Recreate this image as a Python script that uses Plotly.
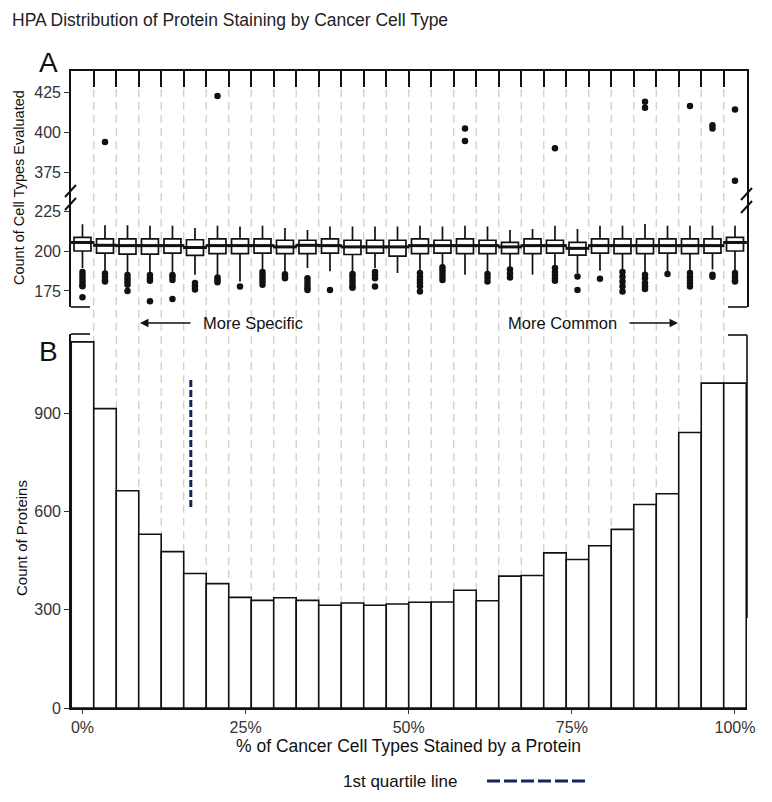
import plotly.graph_objects as go

# ---------------- data ----------------
pct_bins = [0, 3.45, 6.9, 10.34, 13.79, 17.24, 20.69, 24.14, 27.59, 31.03,
            34.48, 37.93, 41.38, 44.83, 48.28, 51.72, 55.17, 58.62, 62.07, 65.52,
            68.97, 72.41, 75.86, 79.31, 82.76, 86.21, 89.66, 93.1, 96.55, 100]
bin_width = 3.448

protein_counts = [1119, 915, 664, 531, 478, 411, 380, 338, 329, 337,
                  329, 314, 321, 314, 318, 323, 324, 360, 328, 403,
                  405, 474, 454, 496, 546, 622, 655, 842, 993, 993]

box_lower = [189.5, 187.4, 186, 186, 186, 185.3, 185.3, 181, 187.4, 186.3,
             189.5, 187.4, 187.4, 189.5, 186.3, 187.4, 190.6, 185.3, 187.4, 189.5,
             185.3, 190, 186.3, 187.8, 187.4, 186.3, 187.4, 187.4, 188.5, 187.4]
box_q1 = [200.2, 198.9, 198.3, 198.3, 198.9, 197.4, 198.5, 198.5, 198.9, 198.5,
          198.5, 198.9, 198, 198.9, 197, 198.5, 198.9, 198.5, 198.5, 198.5,
          198.5, 198.9, 197.6, 198.9, 198.5, 198.5, 198.9, 198.5, 198.9, 200.2]
box_median = [205.6, 203.8, 203.6, 203.6, 203.6, 202.4, 203.6, 203.6, 203.6, 202.8,
              203.8, 203.6, 202.8, 202.8, 202.8, 203.6, 203.6, 203.6, 203.6, 202.8,
              203.6, 203.6, 201.9, 203.6, 203.6, 203.6, 203.6, 203.6, 203.6, 205.6]
box_q3 = [208.8, 207.8, 207.8, 207.8, 207.8, 207.3, 207.8, 207.8, 207.8, 207,
          207, 207.8, 207, 207, 207, 207.8, 207, 207.8, 207, 205.6,
          207.8, 207, 205.6, 207.8, 207.8, 207.8, 207.8, 207.8, 207.8, 208.8]
box_upper = [217, 216.4, 216.4, 216.2, 216.2, 214.7, 216.2, 215.6, 216.2, 214.7,
             213.5, 215.6, 215.6, 215.6, 215.6, 216.2, 215.6, 216.2, 215.6, 213.5,
             214.1, 216.2, 214.1, 216.2, 216.2, 217.3, 216.2, 216.2, 216.2, 216.2]

low_outliers = [
    [187, 185, 183, 181, 179, 178, 171],
    [186, 184, 182, 181],
    [185, 183, 181, 179, 175],
    [185, 183, 181.5, 168.5],
    [185, 184, 182, 170],
    [180, 178, 176],
    [183.5, 182, 180.5],
    [177.8],
    [187, 185, 183, 181, 179],
    [185.5, 184, 183],
    [183, 181, 179, 177, 175.6],
    [175.6],
    [185.7, 184, 182, 180, 178, 177],
    [187, 185, 183, 177.8],
    [],
    [186.3, 184, 182, 180, 178, 174.6],
    [190, 188, 186, 184, 182],
    [],
    [185.7, 183.5, 181],
    [188.5, 186, 183.5],
    [],
    [189.5, 187, 185, 183, 181.4],
    [184.2, 175.6],
    [182.7],
    [187, 184, 181, 178, 174.6],
    [185.3, 183, 180, 178, 176.3],
    [185.7],
    [186.3, 184, 182, 180, 177.8],
    [185.3, 184],
    [186.3, 184, 182, 181],
]
high_outliers = [
    [], [394], [], [], [], [], [423], [], [], [],
    [], [], [], [], [], [], [], [402.5, 394.5], [], [],
    [], [390], [], [], [], [419.3, 415.5], [], [416.6], [404.5, 402.4], [414.5, 369.5],
]

quartile_x = 16.6
quartile_y = [614, 1011]

a_ticks = [175, 200, 225, 375, 400, 425]
b_ticks = [0, 300, 600, 900]
x_ticks = [0, 25, 50, 75, 100]
x_ticklabels = ["0%", "25%", "50%", "75%", "100%"]

# ---------------- helpers ----------------
BREAK_SHIFT = 125  # values above the axis break are shifted down


def squash(v):
    return v - BREAK_SHIFT if v > 300 else v


OFF = 8                      # page body margin of the browser
W, H = 772 - OFF, 802 - OFF
L, R, T, B = 63, 25, 63, 94
PW, PH = W - L - R, H - T - B


def px(x):  # reference-screen pixel -> paper
    return (x - OFF - L) / PW


def py(y):
    return (H - B - (y - OFF)) / PH


FONT = "Liberation Sans, Arial, sans-serif"
NAVY = "#15245c"
boundaries = [pct_bins[i] + bin_width / 2 for i in range(len(pct_bins) - 1)]
xr = [-1.76, 101.84]

fig = go.Figure()

# ---- panel B histogram ----
fig.add_trace(go.Bar(
    x=pct_bins, y=protein_counts, width=bin_width,
    marker=dict(color="white", line=dict(color="#111111", width=1.6)),
    xaxis="x", yaxis="y", showlegend=False, hoverinfo="skip"))

fig.add_trace(go.Scatter(
    x=[quartile_x, quartile_x], y=quartile_y, mode="lines",
    line=dict(color=NAVY, width=3, dash="7px,3px"),
    xaxis="x", yaxis="y", showlegend=False, hoverinfo="skip"))

# ---- panel A boxes ----
fig.add_trace(go.Box(
    x=pct_bins, q1=box_q1, median=box_median, q3=box_q3,
    lowerfence=box_lower, upperfence=box_upper,
    width=2.6, whiskerwidth=0, boxpoints=False,
    fillcolor="white", line=dict(color="#111111", width=1.7),
    xaxis="x2", yaxis="y2", showlegend=False, hoverinfo="skip"))

fig.add_trace(go.Scatter(
    x=pct_bins, y=box_median, mode="markers",
    marker=dict(symbol="line-ew", size=17, line=dict(color="#111111", width=3)),
    xaxis="x2", yaxis="y2", showlegend=False, hoverinfo="skip"))

ox, oy = [], []
for xc, lo, hi in zip(pct_bins, low_outliers, high_outliers):
    for v in lo + hi:
        ox.append(xc)
        oy.append(squash(v))
fig.add_trace(go.Scatter(
    x=ox, y=oy, mode="markers",
    marker=dict(color="#111111", size=6.5),
    xaxis="x2", yaxis="y2", showlegend=False, hoverinfo="skip"))

# ---------------- layout ----------------
tickfont = dict(family=FONT, size=16, color="#333333")
fig.update_layout(
    width=W, height=H,
    margin=dict(l=L, r=R, t=T, b=B, autoexpand=False),
    paper_bgcolor="white", plot_bgcolor="rgba(0,0,0,0)",
    showlegend=False,
    xaxis=dict(domain=[0, 1], range=xr, anchor="y", automargin=False,
               tickvals=x_ticks, ticktext=x_ticklabels,
               ticks="outside", ticklen=4, tickwidth=1.2, tickcolor="#333333",
               showline=True, linecolor="#111111", linewidth=1.6,
               showgrid=False, zeroline=False, tickfont=tickfont),
    yaxis=dict(domain=[0, py(334)], range=[0, 1143], anchor="x", automargin=False,
               tickvals=b_ticks, ticks="outside", ticklen=5, tickwidth=1.2,
               tickcolor="#333333", showline=True, linecolor="#111111",
               linewidth=1.6, showgrid=False, zeroline=False, tickfont=tickfont),
    xaxis2=dict(domain=[0, 1], range=xr, anchor="y2", side="top", automargin=False,
                tickvals=boundaries, ticks="inside", ticklen=16, tickwidth=1.6,
                tickcolor="#111111", showticklabels=False,
                showline=True, linecolor="#111111", linewidth=1.6,
                showgrid=False, zeroline=False),
    yaxis2=dict(domain=[py(307), 1], range=[164.9, 313.7], anchor="x2",
                automargin=False,
                tickvals=[squash(v) for v in a_ticks],
                ticktext=[str(v) for v in a_ticks],
                ticks="outside", ticklen=5, tickwidth=1.2, tickcolor="#333333",
                showline=True, mirror=True, linecolor="#111111", linewidth=1.6,
                showgrid=False, zeroline=False, tickfont=tickfont),
)

shapes = []
# dashed grey guide lines at bin boundaries spanning both panels
for b in boundaries:
    shapes.append(dict(type="line", xref="x", yref="paper", x0=b, x1=b,
                       y0=0, y1=py(80), layer="below",
                       line=dict(color="#cfcfcf", width=1.3, dash="8px,5px")))


def seg(x0, y0, x1, y1, color="#111111", width=1.6, dash=None):
    ln = dict(color=color, width=width)
    if dash:
        ln["dash"] = dash
    return dict(type="line", xref="paper", yref="paper",
                x0=px(x0), y0=py(y0), x1=px(x1), y1=py(y1), line=ln)


# corner brackets and partial right line
shapes += [
    seg(71, 307, 90, 307), seg(728, 307, 747, 307),
    seg(71, 334, 90, 334), seg(728, 335, 747, 335),
    seg(747, 335, 747, 618),
]
# axis-break slashes
shapes += [
    seg(65, 197, 76, 185, width=2), seg(65, 210, 76, 198, width=2),
    seg(741, 200, 752, 188, width=2), seg(741, 213, 752, 201, width=2),
]
# legend key
shapes.append(seg(487, 781, 585, 781, color=NAVY, width=3, dash="13px,4px"))
fig.update_layout(shapes=shapes)


def ann(text, x, y, size, xanchor="center", yanchor="middle", angle=0,
        color="#111111"):
    return dict(text=text, xref="paper", yref="paper", x=px(x), y=py(y),
                xanchor=xanchor, yanchor=yanchor, showarrow=False,
                textangle=angle, font=dict(family=FONT, size=size, color=color))


def arrow(x_tip, x_tail, y):
    return dict(text="", xref="paper", yref="paper", x=px(x_tip), y=py(y),
                ax=x_tail - x_tip, ay=0, axref="pixel", ayref="pixel",
                showarrow=True, arrowhead=2, arrowsize=1.3, arrowwidth=1.3,
                arrowcolor="#111111")


annotations = [
    ann("HPA Distribution of Protein Staining by Cancer Cell Type", 10, 20, 17.5,
        xanchor="left", color="#222222"),
    ann("A", 48, 62, 28),
    ann("B", 48, 351, 28),
    ann("Count of Cell Types Evaluated", 19, 188, 14.5, angle=-90),
    ann("Count of Proteins", 21, 538, 15, angle=-90),
    ann("% of Cancer Cell Types Stained by a Protein", 408, 746, 17.5),
    ann("1st quartile line", 459, 781, 17, xanchor="right"),
    ann("More Specific", 201, 323, 16.5, xanchor="left"),
    ann("More Common", 506, 323, 16.5, xanchor="left"),
    arrow(140, 192, 323),
    arrow(678, 628, 323),
]
fig.update_layout(annotations=annotations)

fig.write_html("out.html")
